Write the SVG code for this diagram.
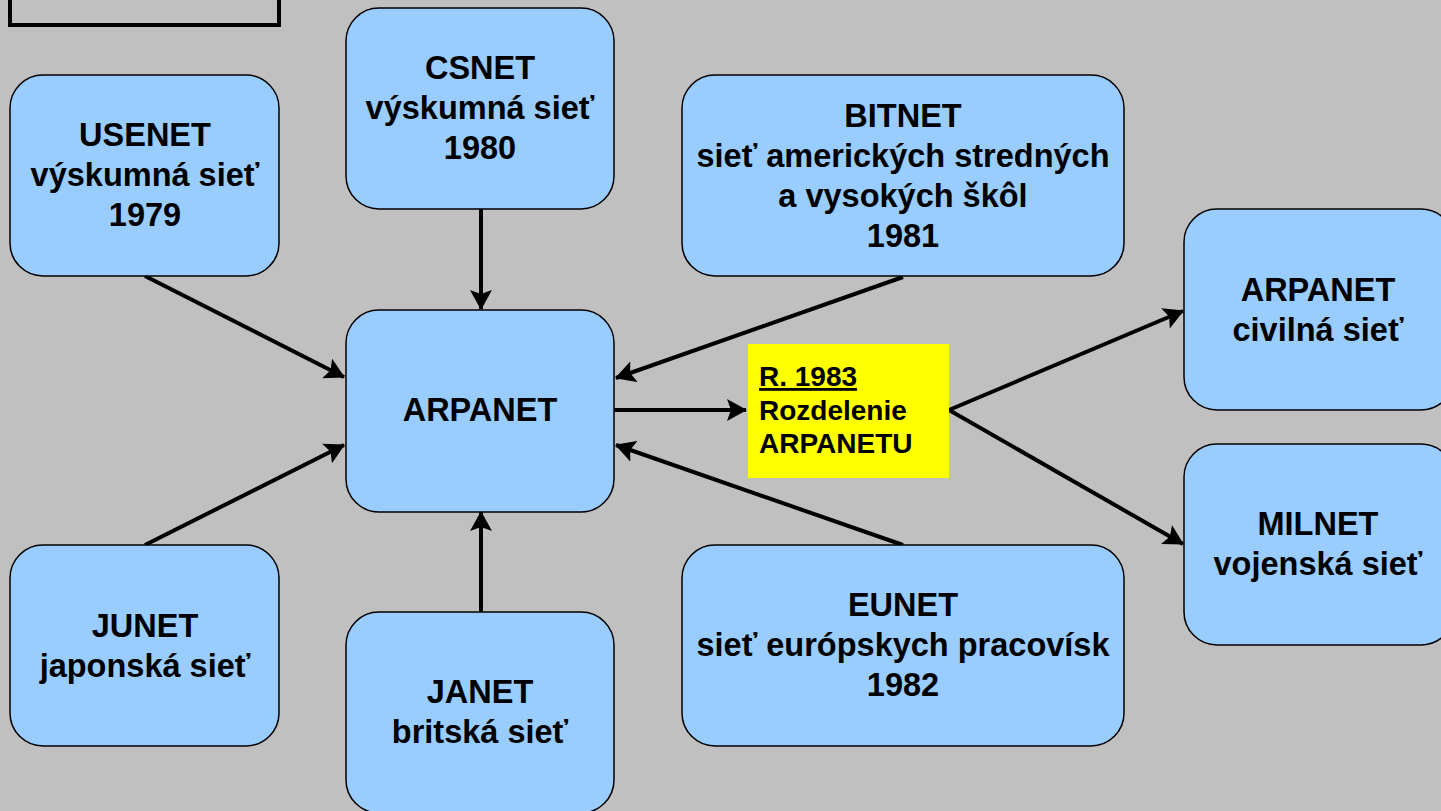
<svg xmlns="http://www.w3.org/2000/svg" width="1441" height="811" viewBox="0 0 1441 811">
<style>
.box{fill:#99CCFF;stroke:#000;stroke-width:1.5}
.t{font-family:"Liberation Sans",Arial,sans-serif;font-weight:bold;font-size:32.5px;text-anchor:middle;fill:#000}
.y{font-family:"Liberation Sans",Arial,sans-serif;font-weight:bold;font-size:28px;fill:#000}
.c{stroke:#000;stroke-width:4;fill:none;marker-end:url(#ah)}
</style>
<defs>
<marker id="ah" markerUnits="userSpaceOnUse" viewBox="0 0 20 22" refX="19" refY="11" markerWidth="20" markerHeight="22" orient="auto">
<path d="M0,0 L20,11 L0,22 L4,11 Z" fill="#000"/>
</marker>
</defs>
<rect x="0" y="0" width="1441" height="811" fill="#C0C0C0"/>
<rect x="10" y="-20" width="269" height="45" fill="none" stroke="#000" stroke-width="4"/>
<g id="connectors">
<line class="c" x1="145" y1="276" x2="344" y2="377"/>
<line class="c" x1="481" y1="208" x2="481" y2="309"/>
<line class="c" x1="903" y1="277" x2="616" y2="378"/>
<line class="c" x1="614" y1="410" x2="746" y2="410"/>
<line class="c" x1="903" y1="545" x2="616" y2="445"/>
<line class="c" x1="481" y1="612" x2="481" y2="512"/>
<line class="c" x1="145" y1="545" x2="344" y2="445"/>
<line class="c" x1="949" y1="410" x2="1183" y2="311"/>
<line class="c" x1="949" y1="410" x2="1183" y2="544"/>
</g>
<g id="usenet">
<rect class="box" x="10" y="75" width="269" height="201" rx="33"/>
<text class="t" x="145" y="146">USENET</text>
<text class="t" x="145" y="186">výskumná sieť</text>
<text class="t" x="145" y="226">1979</text>
</g>
<g id="csnet">
<rect class="box" x="346" y="8" width="268" height="201" rx="33"/>
<text class="t" x="480" y="79">CSNET</text>
<text class="t" x="480" y="119">výskumná sieť</text>
<text class="t" x="480" y="159">1980</text>
</g>
<g id="bitnet">
<rect class="box" x="682" y="75" width="442" height="201" rx="33"/>
<text class="t" x="903" y="127">BITNET</text>
<text class="t" x="903" y="167">sieť amerických stredných</text>
<text class="t" x="903" y="207">a vysokých škôl</text>
<text class="t" x="903" y="247">1981</text>
</g>
<g id="arpanet">
<rect class="box" x="346" y="310" width="268" height="202" rx="33"/>
<text class="t" x="480" y="421">ARPANET</text>
</g>
<g id="rozdelenie">
<rect x="748" y="344" width="201" height="134" fill="#FFFF00"/>
<text class="y" x="759" y="386" text-decoration="underline">R. 1983</text>
<text class="y" x="759" y="420">Rozdelenie</text>
<text class="y" x="759" y="453">ARPANETU</text>
</g>
<g id="arpanet-civil">
<rect class="box" x="1184" y="209" width="270" height="201" rx="33"/>
<text class="t" x="1318" y="301">ARPANET</text>
<text class="t" x="1318" y="341">civilná sieť</text>
</g>
<g id="milnet">
<rect class="box" x="1184" y="444" width="270" height="201" rx="33"/>
<text class="t" x="1318" y="535">MILNET</text>
<text class="t" x="1318" y="575">vojenská sieť</text>
</g>
<g id="junet">
<rect class="box" x="10" y="545" width="269" height="201" rx="33"/>
<text class="t" x="145" y="637">JUNET</text>
<text class="t" x="145" y="677">japonská sieť</text>
</g>
<g id="janet">
<rect class="box" x="346" y="612" width="268" height="201" rx="33"/>
<text class="t" x="480" y="703">JANET</text>
<text class="t" x="480" y="743">britská sieť</text>
</g>
<g id="eunet">
<rect class="box" x="682" y="545" width="442" height="201" rx="33"/>
<text class="t" x="903" y="616">EUNET</text>
<text class="t" x="903" y="656">sieť európskych pracovísk</text>
<text class="t" x="903" y="696">1982</text>
</g>
</svg>
